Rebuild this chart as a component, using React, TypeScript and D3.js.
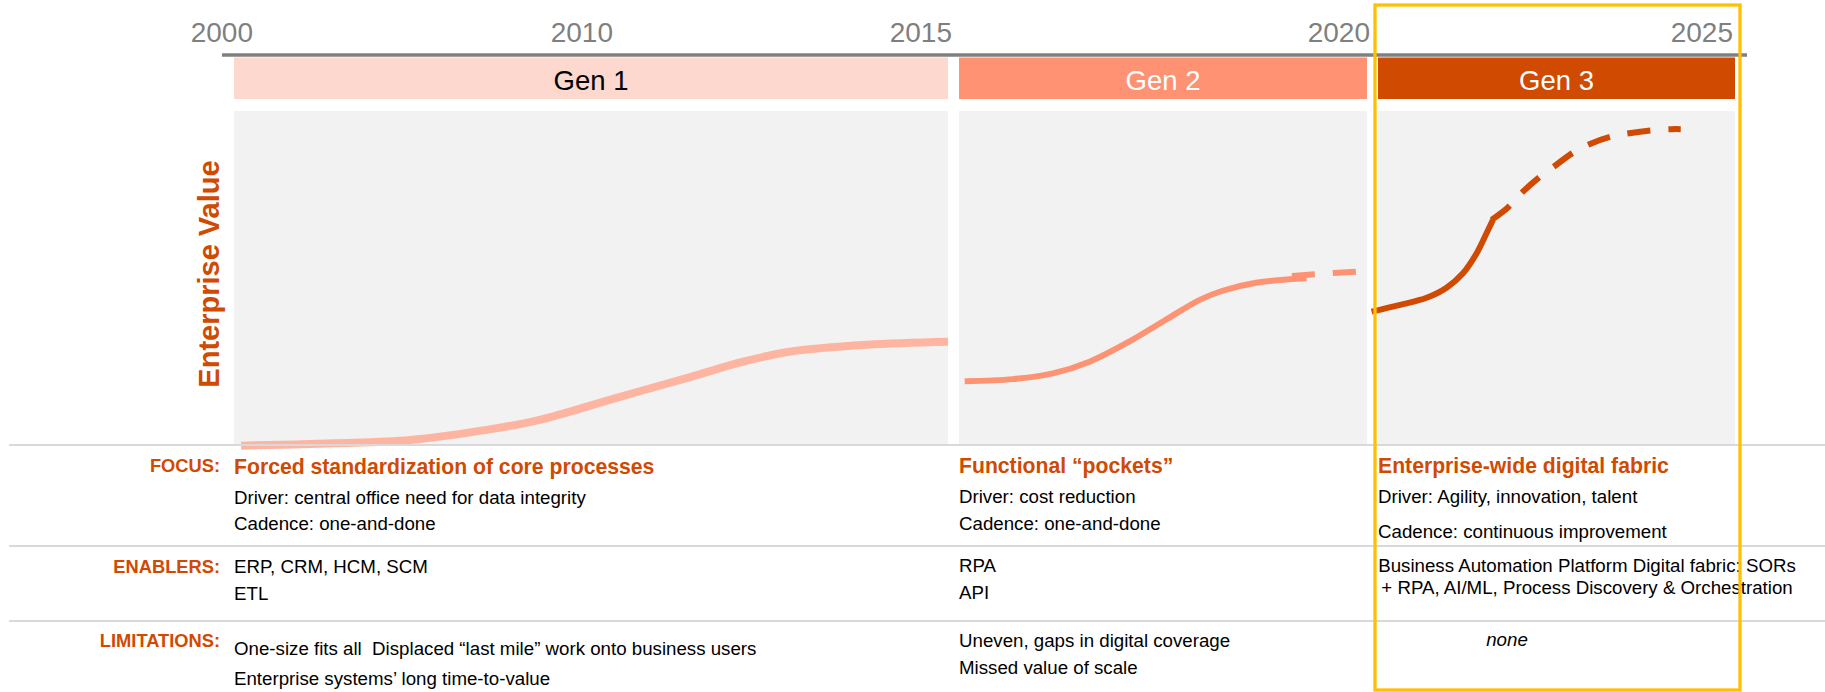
import React from "react";
import * as d3 from "d3";

// ---------- data ----------
const tickYears = [2000, 2010, 2015, 2020, 2025];
const genNames = ["Gen 1", "Gen 2", "Gen 3"];
const genStart = [2000, 2015, 2020];
const genEnd = [2015, 2020, 2025];

const gen1Years = [2000.15, 2002.1, 2003.7, 2005.3, 2006.4, 2008.0, 2009.6, 2010.7, 2011.7, 2013.3, 2015.0];
const gen1Values = [0.4, 1.1, 2.1, 5.1, 8.0, 14.5, 20.9, 25.4, 28.4, 30.4, 31.3];

const gen2Years = [2015.07, 2015.66, 2016.15, 2016.6, 2017.05, 2017.53, 2017.95, 2018.23, 2018.64, 2019.26];
const gen2Values = [19.6, 20.2, 21.9, 25.4, 30.9, 37.8, 43.8, 46.5, 48.9, 50.2];
const gen2ForecastYears = [2019.08, 2019.48, 2019.88];
const gen2ForecastValues = [50.9, 51.6, 52.2];

const gen3Years = [2019.91, 2020.31, 2020.68, 2020.96, 2021.19, 2021.38, 2021.52, 2021.61];
const gen3Values = [40.3, 42.3, 44.4, 47.4, 51.7, 57.6, 63.6, 67.6];
const gen3ForecastYears = [2021.59, 2021.82, 2021.99, 2022.26, 2022.46, 2022.74, 2022.96, 2023.27, 2023.52, 2023.85, 2024.11, 2024.24];
const gen3ForecastValues = [67.6, 71.3, 75.2, 80.3, 83.4, 87.7, 90.1, 92.4, 93.4, 94.3, 94.6, 94.6];

const rowLabels = ["FOCUS:", "ENABLERS:", "LIMITATIONS:"];
const focusTitles = ["Forced standardization of core processes", "Functional \u201cpockets\u201d", "Enterprise-wide digital fabric"];
const focusLines = [
  ["Driver: central office need for data integrity", "Cadence: one-and-done"],
  ["Driver: cost reduction", "Cadence: one-and-done"],
  ["Driver: Agility, innovation, talent", "Cadence: continuous improvement"],
];
const enablerLines = [
  ["ERP, CRM, HCM, SCM", "ETL"],
  ["RPA", "API"],
  ["Business Automation Platform Digital fabric: SORs", "+ RPA, AI/ML, Process Discovery & Orchestration"],
];
const limitationLines = [
  ["One-size fits all  Displaced \u201clast mile\u201d work onto business users", "Enterprise systems\u2019 long time-to-value"],
  ["Uneven, gaps in digital coverage", "Missed value of scale"],
  ["none"],
];

// ---------- layout / style ----------
const W = 1825;
const H = 692;
const FONT = "'Liberation Sans', Arial, Helvetica, sans-serif";
const ORANGE = "#D04A02";
const panelX: [number, number][] = [[234, 948], [959, 1367], [1378, 1735]];
const genFill = ["#FDD8CE", "#FE9273", "#D04A02"];
const genText = ["#000000", "#FFFFFF", "#FFFFFF"];
const curveColor = ["#FDB5A1", "#FE9374", "#D04A02"];
const curveWidth = [8, 6, 6];
const plotTop = 111;
const plotBottom = 445;

const tickScale = d3.scaleLinear().domain(tickYears).range([253, 613, 952, 1370, 1733]);
const yScale = d3.scaleLinear().domain([0, 100]).range([447, 111]);
const xScales = genNames.map((_, i) =>
  d3.scaleLinear().domain([genStart[i], genEnd[i]]).range(panelX[i])
);

function pathFor(i: number, xs: number[], vs: number[]) {
  const sx = xScales[i];
  const line = d3
    .line<number>()
    .x((_, k) => sx(xs[k]))
    .y((v) => yScale(v))
    .curve(d3.curveCatmullRom.alpha(0.5));
  return line(vs) || "";
}

export default function App() {
  const solid = [
    pathFor(0, gen1Years, gen1Values),
    pathFor(1, gen2Years, gen2Values),
    pathFor(2, gen3Years, gen3Values),
  ];
  const dashed = [
    { i: 1, d: pathFor(1, gen2ForecastYears, gen2ForecastValues) },
    { i: 2, d: pathFor(2, gen3ForecastYears, gen3ForecastValues) },
  ];

  const bodySize = 18.7;
  const focusBase = [[474, 504, 530], [473, 503, 530], [473, 503, 538]];
  const enablerBase = [[573, 600], [572, 599], [572, 594]];
  const limitBase = [[655, 685], [647, 674], [646]];
  const labelBase = [472, 573, 647];

  return (
    <svg
      width={W}
      height={H}
      style={{ position: "absolute", left: 0, top: 0, background: "#fff" }}
      fontFamily={FONT}
    >
      {/* tick labels */}
      {tickYears.map((y) => (
        <text key={y} x={tickScale(y)} y={41.5} textAnchor="end" fontSize={28} fill="#7F7F7F">
          {y}
        </text>
      ))}
      {/* timeline axis */}
      <line x1={222} x2={1747} y1={55} y2={55} stroke="#808080" strokeWidth={3.3} />

      {/* gen headers & panels */}
      {genNames.map((g, i) => (
        <g key={g}>
          <rect x={panelX[i][0]} y={57.5} width={panelX[i][1] - panelX[i][0]} height={41.5} fill={genFill[i]} />
          <text
            x={(panelX[i][0] + panelX[i][1]) / 2}
            y={90}
            textAnchor="middle"
            fontSize={27.5}
            fill={genText[i]}
          >
            {g}
          </text>
          <rect x={panelX[i][0]} y={plotTop} width={panelX[i][1] - panelX[i][0]} height={plotBottom - plotTop} fill="#F2F2F2" />
        </g>
      ))}

      {/* y label */}
      <text
        transform={`translate(219, 274) rotate(-90)`}
        textAnchor="middle"
        fontSize={29}
        fontWeight="bold"
        fill={ORANGE}
      >
        Enterprise Value
      </text>

      {/* curves */}
      {solid.map((d, i) => (
        <path key={"s" + i} d={d} fill="none" stroke={curveColor[i]} strokeWidth={curveWidth[i]} />
      ))}
      {dashed.map(({ i, d }) => (
        <path key={"d" + i} d={d} fill="none" stroke={curveColor[i]} strokeWidth={curveWidth[i]} strokeDasharray="23 18" />
      ))}

      {/* row separators */}
      {[445, 546, 621].map((y) => (
        <line key={y} x1={9} x2={W} y1={y} y2={y} stroke="#D9D9D9" strokeWidth={2} />
      ))}

      {/* row labels */}
      {rowLabels.map((l, r) => (
        <text key={l} x={220} y={labelBase[r]} textAnchor="end" fontSize={18.3} fontWeight="bold" fill={ORANGE}>
          {l}
        </text>
      ))}

      {/* focus row */}
      {genNames.map((_, i) => (
        <g key={"f" + i}>
          <text x={panelX[i][0]} y={focusBase[i][0]} fontSize={21.2} fontWeight="bold" fill={ORANGE}>
            {focusTitles[i]}
          </text>
          {focusLines[i].map((t, k) => (
            <text key={k} x={panelX[i][0]} y={focusBase[i][k + 1]} fontSize={bodySize} fill="#000">
              {t}
            </text>
          ))}
        </g>
      ))}

      {/* enablers row */}
      {genNames.map((_, i) =>
        enablerLines[i].map((t, k) => (
          <text
            key={"e" + i + k}
            x={i === 2 ? 1587 : panelX[i][0]}
            y={enablerBase[i][k]}
            textAnchor={i === 2 ? "middle" : "start"}
            fontSize={bodySize}
            fill="#000"
          >
            {t}
          </text>
        ))
      )}

      {/* limitations row */}
      {genNames.map((_, i) =>
        limitationLines[i].map((t, k) => (
          <text
            key={"l" + i + k}
            x={i === 2 ? 1507 : panelX[i][0]}
            y={limitBase[i][k]}
            textAnchor={i === 2 ? "middle" : "start"}
            fontSize={bodySize}
            fontStyle={i === 2 ? "italic" : "normal"}
            fill="#000"
            style={{ whiteSpace: "pre" }}
          >
            {t}
          </text>
        ))
      )}

      {/* highlight box */}
      <rect x={1375} y={5} width={365} height={685} fill="none" stroke="#FFC000" strokeWidth={3.3} />
    </svg>
  );
}
